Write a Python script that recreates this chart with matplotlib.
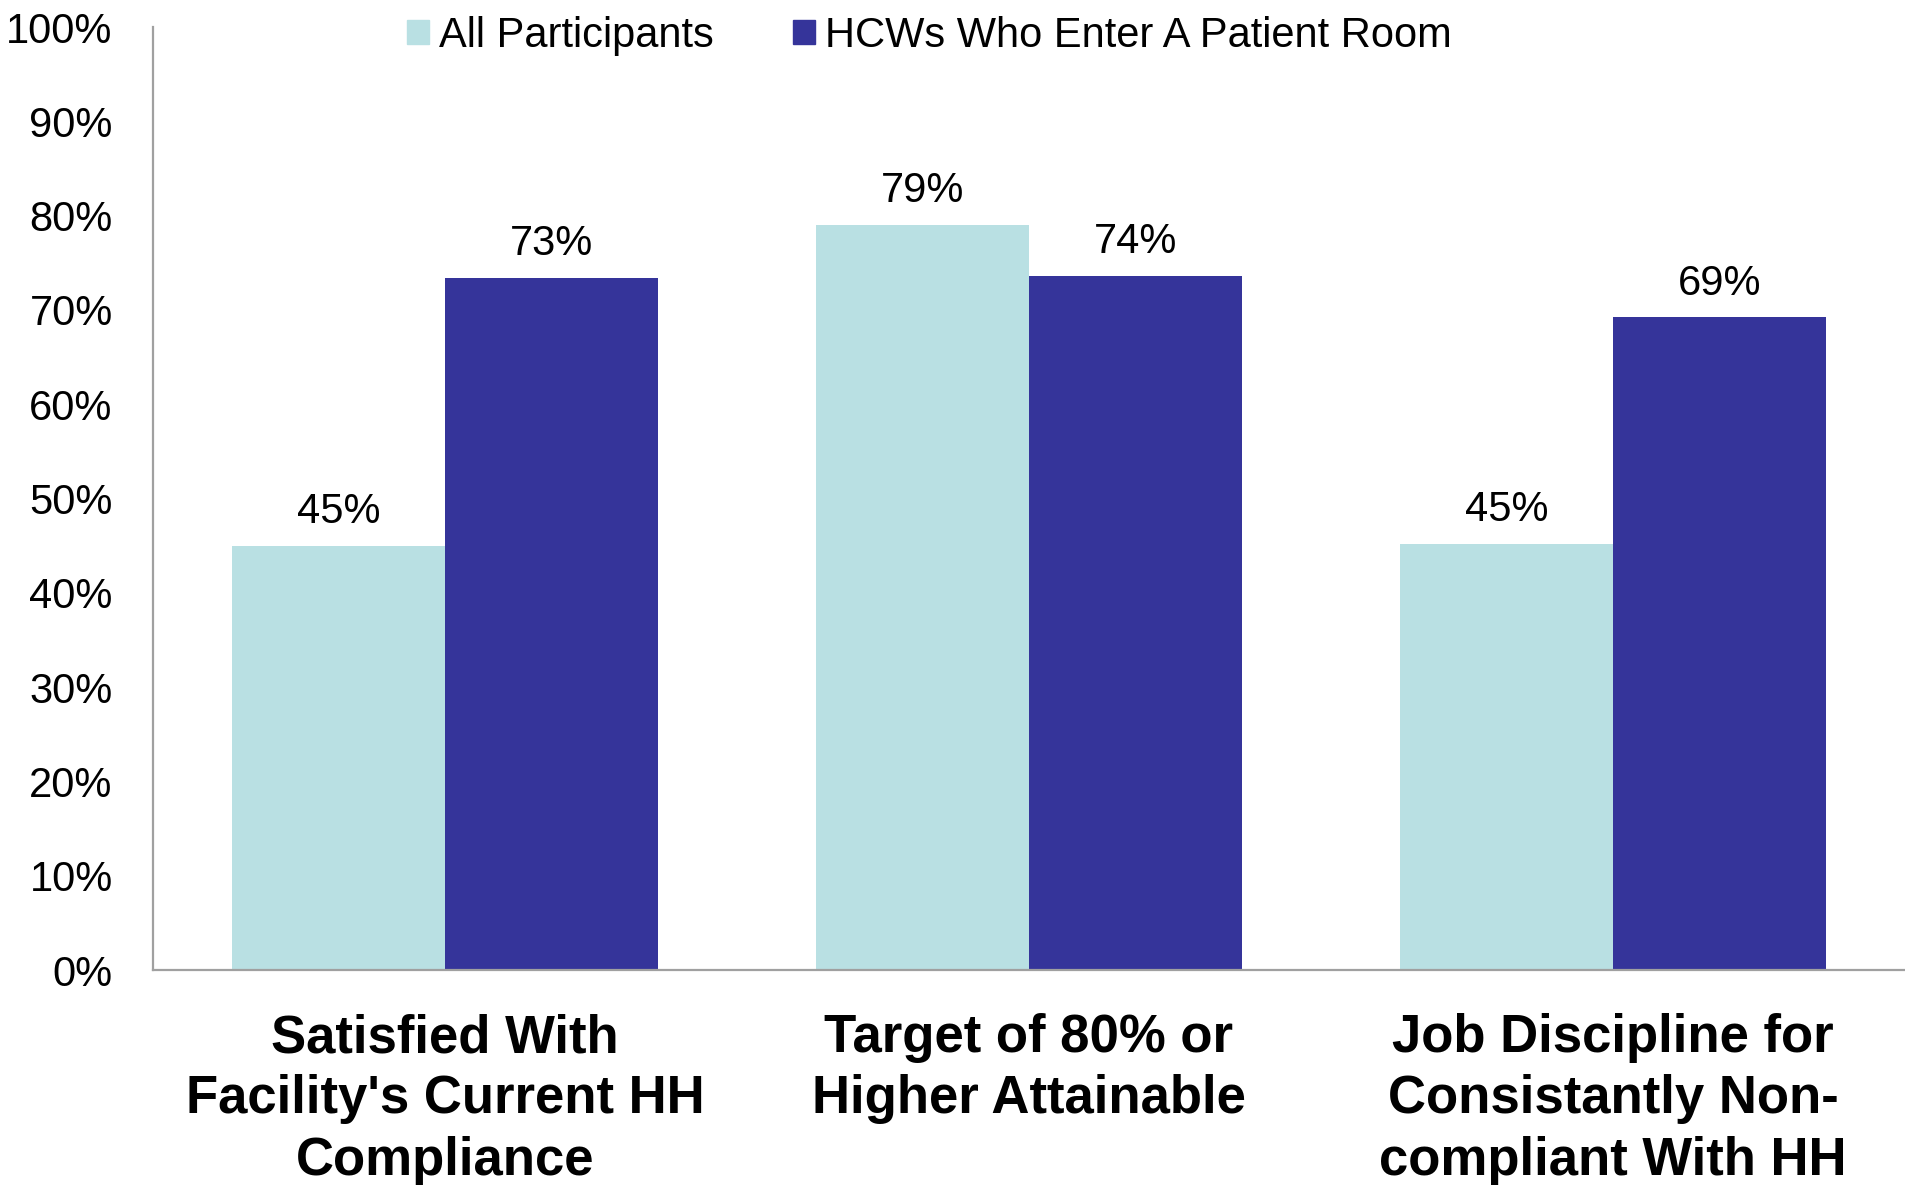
import numpy as np
import matplotlib.pyplot as plt
from matplotlib.patches import Patch

plt.rcParams['font.family'] = ['Liberation Sans', 'DejaVu Sans']

categories = ["Satisfied With\nFacility's Current HH\nCompliance",
              "Target of 80% or\nHigher Attainable",
              "Job Discipline for\nConsistantly Non-\ncompliant With HH"]
series_names = ['All Participants', 'HCWs Who Enter A Patient Room']
all_participants = [45.0, 79.0, 45.2]
hcw_enter_room = [73.4, 73.6, 69.2]
yticks = np.arange(0, 101, 10)

light = '#B9E0E3'
dark = '#35349A'

fig = plt.figure(figsize=(19.05, 11.85), dpi=100)
ax = fig.add_axes([0.0803, 0.1814, 0.9197, 0.7958])

x = np.arange(len(categories))
w = 0.364
b1 = ax.bar(x - w/2, all_participants, w, color=light)
b2 = ax.bar(x + w/2, hcw_enter_room, w, color=dark)

for bars, vals in [(b1, all_participants), (b2, hcw_enter_room)]:
    for r, v in zip(bars, vals):
        ax.annotate('%d%%' % round(v), (r.get_x() + r.get_width()/2, v),
                    xytext=(0, 10), textcoords='offset points',
                    ha='center', va='bottom', fontsize=30)

ax.set_xlim(-0.5, 2.5)
ax.set_ylim(0, 100)
ax.set_yticks(yticks)
ax.set_yticklabels(['%d%%' % t for t in yticks], fontsize=30)
ax.tick_params(axis='y', length=0, pad=29)
ax.set_xticks(x)
ax.set_xticklabels(categories, fontsize=38, fontweight='bold', linespacing=1.29)
ax.tick_params(axis='x', length=0, pad=31)

for s in ['top', 'right']:
    ax.spines[s].set_visible(False)
for s in ['left', 'bottom']:
    ax.spines[s].set_color('#A0A0A0')
    ax.spines[s].set_linewidth(1.6)

handles = [Patch(color=light), Patch(color=dark)]
fig.legend(handles, series_names, loc='center', bbox_to_anchor=(0.488, 0.970),
           ncol=2, frameon=False, fontsize=30, handlelength=0.53,
           handleheight=0.53, handletextpad=0.24, columnspacing=1.9,
           borderpad=0, borderaxespad=0)

plt.savefig('out.png', dpi=100)
